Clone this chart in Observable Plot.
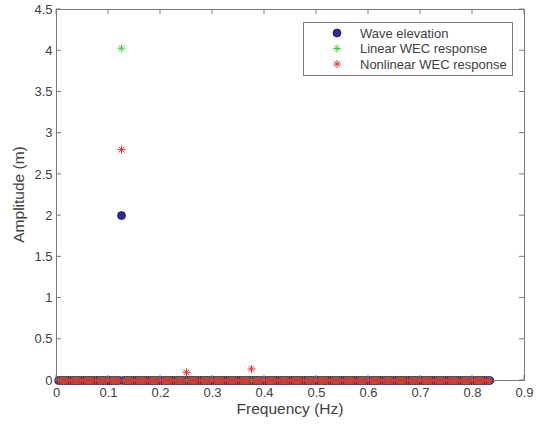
<!DOCTYPE html>
<html>
<head>
<meta charset="utf-8">
<script src="https://cdn.jsdelivr.net/npm/d3@7"></script>
<script src="https://cdn.jsdelivr.net/npm/@observablehq/plot@0.6"></script>
<style>
  html, body { margin: 0; padding: 0; background: #fff; }
  svg { display: block; }
</style>
</head>
<body>
<div id="chart"></div>
<script>
// Frequency grid (Hz) of the spectrum lines
const freq = [
  0.0042, 0.0083, 0.0125, 0.0167, 0.0208, 0.0250, 0.0292, 0.0333, 0.0375, 0.0417, 0.0458, 0.0500,
  0.0542, 0.0583, 0.0625, 0.0667, 0.0708, 0.0750, 0.0792, 0.0833, 0.0875, 0.0917, 0.0958, 0.1000,
  0.1042, 0.1083, 0.1125, 0.1167, 0.1208, 0.1250, 0.1292, 0.1333, 0.1375, 0.1417, 0.1458, 0.1500,
  0.1542, 0.1583, 0.1625, 0.1667, 0.1708, 0.1750, 0.1792, 0.1833, 0.1875, 0.1917, 0.1958, 0.2000,
  0.2042, 0.2083, 0.2125, 0.2167, 0.2208, 0.2250, 0.2292, 0.2333, 0.2375, 0.2417, 0.2458, 0.2500,
  0.2542, 0.2583, 0.2625, 0.2667, 0.2708, 0.2750, 0.2792, 0.2833, 0.2875, 0.2917, 0.2958, 0.3000,
  0.3042, 0.3083, 0.3125, 0.3167, 0.3208, 0.3250, 0.3292, 0.3333, 0.3375, 0.3417, 0.3458, 0.3500,
  0.3542, 0.3583, 0.3625, 0.3667, 0.3708, 0.3750, 0.3792, 0.3833, 0.3875, 0.3917, 0.3958, 0.4000,
  0.4042, 0.4083, 0.4125, 0.4167, 0.4208, 0.4250, 0.4292, 0.4333, 0.4375, 0.4417, 0.4458, 0.4500,
  0.4542, 0.4583, 0.4625, 0.4667, 0.4708, 0.4750, 0.4792, 0.4833, 0.4875, 0.4917, 0.4958, 0.5000,
  0.5042, 0.5083, 0.5125, 0.5167, 0.5208, 0.5250, 0.5292, 0.5333, 0.5375, 0.5417, 0.5458, 0.5500,
  0.5542, 0.5583, 0.5625, 0.5667, 0.5708, 0.5750, 0.5792, 0.5833, 0.5875, 0.5917, 0.5958, 0.6000,
  0.6042, 0.6083, 0.6125, 0.6167, 0.6208, 0.6250, 0.6292, 0.6333, 0.6375, 0.6417, 0.6458, 0.6500,
  0.6542, 0.6583, 0.6625, 0.6667, 0.6708, 0.6750, 0.6792, 0.6833, 0.6875, 0.6917, 0.6958, 0.7000,
  0.7042, 0.7083, 0.7125, 0.7167, 0.7208, 0.7250, 0.7292, 0.7333, 0.7375, 0.7417, 0.7458, 0.7500,
  0.7542, 0.7583, 0.7625, 0.7667, 0.7708, 0.7750, 0.7792, 0.7833, 0.7875, 0.7917, 0.7958, 0.8000,
  0.8042, 0.8083, 0.8125, 0.8167, 0.8208, 0.8250, 0.8292, 0.8333
];
// Non-zero amplitudes (m) per series; all other frequencies are 0
const wavePeakFreq = [0.125];
const wavePeakAmp = [2.0];
const linearPeakFreq = [0.125];
const linearPeakAmp = [4.03];
const nonlinearPeakFreq = [0.125, 0.25, 0.375];
const nonlinearPeakAmp = [2.80, 0.10, 0.14];

const xTicks = [0, 0.1, 0.2, 0.3, 0.4, 0.5, 0.6, 0.7, 0.8, 0.9];
const yTicks = [0, 0.5, 1, 1.5, 2, 2.5, 3, 3.5, 4, 4.5];
const seriesNames = ["Wave elevation", "Linear WEC response", "Nonlinear WEC response"];

function buildSeries(peakF, peakA) {
  return freq.map(f => {
    const i = peakF.findIndex(p => Math.abs(p - f) < 1e-3);
    return {f, a: i >= 0 ? peakA[i] : 0};
  });
}
const waveData = buildSeries(wavePeakFreq, wavePeakAmp);
const linearData = buildSeries(linearPeakFreq, linearPeakAmp);
const nonlinearData = buildSeries(nonlinearPeakFreq, nonlinearPeakAmp);

// MATLAB-style 8-armed asterisk
const asterisk = {
  draw(ctx, size) {
    const r = Math.sqrt(size / Math.PI);
    const d = r * Math.SQRT1_2;
    ctx.moveTo(-r, 0); ctx.lineTo(r, 0);
    ctx.moveTo(0, -r); ctx.lineTo(0, r);
    ctx.moveTo(-d, -d); ctx.lineTo(d, d);
    ctx.moveTo(-d, d); ctx.lineTo(d, -d);
  }
};

const BLUE = "#2a2a9c", GREEN = "#3ccf3c", RED = "#dd3333";
const AX = "#7a7a7a", TXT = "#404040";
const font = "Liberation Sans, Arial, sans-serif";

const chart = Plot.plot({
  width: 536,
  height: 428,
  marginLeft: 56,
  marginRight: 12,
  marginTop: 9,
  marginBottom: 48,
  style: {fontFamily: font, fontSize: "13px", color: TXT, background: "#fff"},
  x: {domain: [0, 0.9]},
  y: {domain: [0, 4.5]},
  marks: [
    Plot.frame({stroke: AX, strokeWidth: 1}),
    Plot.axisX({ticks: xTicks, tickSize: 0, tickPadding: 7, tickFormat: d => String(d), label: null, fill: TXT}),
    Plot.axisY({ticks: yTicks, tickSize: 0, tickPadding: 4, tickFormat: d => String(d), label: null, fill: TXT}),
    Plot.dot(waveData, {x: "f", y: "a", r: 4, fill: BLUE, stroke: "#15156a", strokeWidth: 0.8}),
    Plot.dot(linearData, {x: "f", y: "a", r: 4, symbol: asterisk, fill: "none", stroke: GREEN, strokeWidth: 1}),
    Plot.dot(nonlinearData, {x: "f", y: "a", r: 4, symbol: asterisk, fill: "none", stroke: RED, strokeWidth: 1})
  ]
});

const svg = d3.select(chart);
const xs = chart.scale("x"), ys = chart.scale("y");
const x0 = xs.apply(0), x1 = xs.apply(0.9), y0 = ys.apply(0), y1 = ys.apply(4.5);
const tl = 5;
const tg = svg.append("g").attr("stroke", AX).attr("stroke-width", 1);
xTicks.forEach(t => {
  const x = xs.apply(t);
  tg.append("line").attr("x1", x).attr("x2", x).attr("y1", y0).attr("y2", y0 - tl);
  tg.append("line").attr("x1", x).attr("x2", x).attr("y1", y1).attr("y2", y1 + tl);
});
yTicks.forEach(t => {
  const y = ys.apply(t);
  tg.append("line").attr("x1", x0).attr("x2", x0 + tl).attr("y1", y).attr("y2", y);
  tg.append("line").attr("x1", x1).attr("x2", x1 - tl).attr("y1", y).attr("y2", y);
});

// axis labels
svg.append("text").attr("x", (x0 + x1) / 2).attr("y", 414)
  .attr("text-anchor", "middle").attr("font-family", font).attr("font-size", 15.5).attr("fill", TXT)
  .text("Frequency (Hz)");
svg.append("text").attr("transform", `translate(24,${(y0 + y1) / 2}) rotate(-90)`)
  .attr("text-anchor", "middle").attr("font-family", font).attr("font-size", 15.5).attr("fill", TXT)
  .text("Amplitude (m)");

// legend
const lg = svg.append("g");
lg.append("rect").attr("x", 303.5).attr("y", 22.5).attr("width", 209).attr("height", 53)
  .attr("fill", "#fff").attr("stroke", AX);
const rowsY = [33, 48.5, 64];
const mx = 337;
lg.append("circle").attr("cx", mx).attr("cy", rowsY[0]).attr("r", 4).attr("fill", BLUE).attr("stroke", "#15156a").attr("stroke-width", 0.8);
const starPath = d3.path(); asterisk.draw(starPath, 16 * Math.PI);
lg.append("path").attr("d", starPath.toString()).attr("transform", `translate(${mx},${rowsY[1]})`).attr("stroke", GREEN).attr("fill", "none");
lg.append("path").attr("d", starPath.toString()).attr("transform", `translate(${mx},${rowsY[2]})`).attr("stroke", RED).attr("fill", "none");
seriesNames.forEach((n, i) => {
  lg.append("text").attr("x", 360).attr("y", rowsY[i]).attr("dy", "0.35em").attr("text-anchor", "start")
    .attr("font-family", font).attr("font-size", 13).attr("fill", TXT).text(n);
});

document.getElementById("chart").appendChild(chart);
</script>
</body>
</html>
